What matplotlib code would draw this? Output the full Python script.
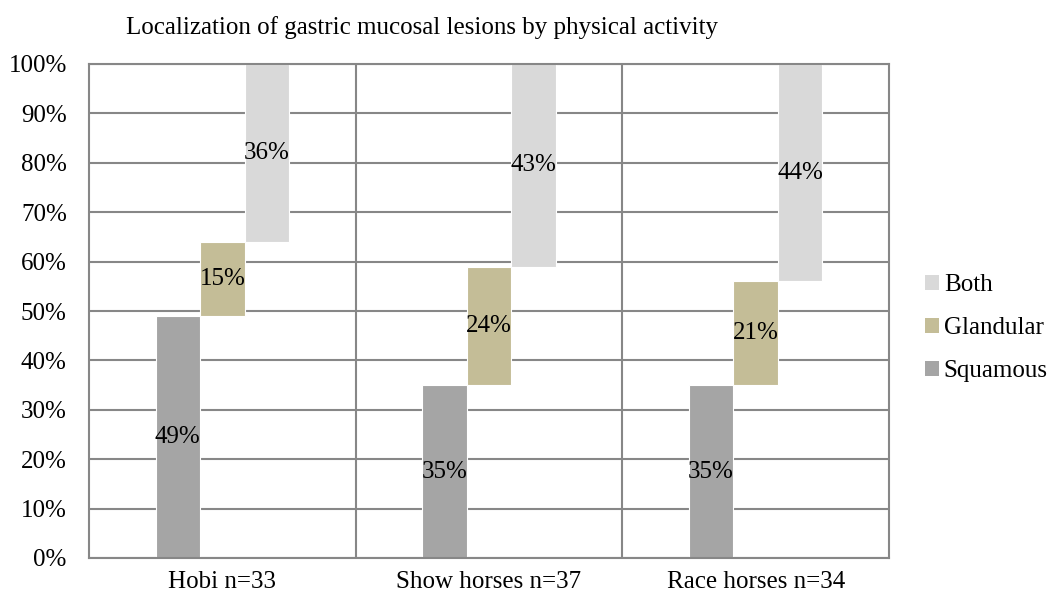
import matplotlib
matplotlib.use("Agg")
import matplotlib.pyplot as plt
from matplotlib.patches import Patch
import numpy as np

categories = ["Hobi n=33", "Show horses n=37", "Race horses n=34"]
squamous = [49, 35, 35]
glandular = [15, 24, 21]
both = [36, 43, 44]
series_names = ["Squamous", "Glandular", "Both"]
colors = ["#a5a5a5", "#c4bd97", "#d9d9d9"]
yticks = list(range(0, 101, 10))

plt.rcParams["font.family"] = ["Liberation Serif", "DejaVu Serif"]
FS = 18

fig = plt.figure(figsize=(10.51, 5.97), dpi=100)
ax = fig.add_axes([89 / 1051, 1 - 558 / 597, 800 / 1051, 494 / 597])

x = np.arange(len(categories))
width = 0.167
grid_c = "#878787"

# background grid
for yv in yticks:
    ax.axhline(yv, color=grid_c, lw=1.5, zorder=0)
for xv in [0.5, 1.5]:
    ax.axvline(xv, color=grid_c, lw=1.5, zorder=0)

bottoms = np.zeros(len(categories))
series = [squamous, glandular, both]
for i, (vals, col) in enumerate(zip(series, colors)):
    vals = np.array(vals, dtype=float)
    xpos = x + (i - 1) * width
    ax.bar(xpos, vals, width, bottom=bottoms, color=col, edgecolor="white",
           linewidth=0.8, zorder=2)
    for xp, b, v in zip(xpos, bottoms, vals):
        top = min(b + v, 100)
        ax.text(xp, (b + top) / 2, f"{int(v)}%", ha="center", va="center",
                fontsize=FS, zorder=3)
    bottoms = bottoms + vals

ax.set_xlim(-0.5, 2.5)
ax.set_ylim(0, 100)
ax.set_yticks(yticks)
ax.set_yticklabels([f"{v}%" for v in yticks], fontsize=FS)
ax.set_xticks(x)
ax.set_xticklabels(categories, fontsize=FS)
ax.tick_params(axis="y", length=0, pad=16)
ax.tick_params(axis="x", length=0, pad=9)
for s in ax.spines.values():
    s.set_color(grid_c)
    s.set_linewidth(1.5)

fig.text(422 / 1051, 1 - 28 / 597,
         "Localization of gastric mucosal lesions by physical activity",
         ha="center", va="center", fontsize=FS)

handles = [Patch(facecolor=c, edgecolor="none") for c in colors][::-1]
labels = series_names[::-1]
fig.legend(handles, labels, loc="center left",
           bbox_to_anchor=(925 / 1051, 1 - 328 / 597), frameon=False,
           fontsize=FS, handlelength=0.55, handleheight=0.55,
           handletextpad=0.2, labelspacing=0.84, borderpad=0, borderaxespad=0)

fig.savefig("out.png", dpi=100)
